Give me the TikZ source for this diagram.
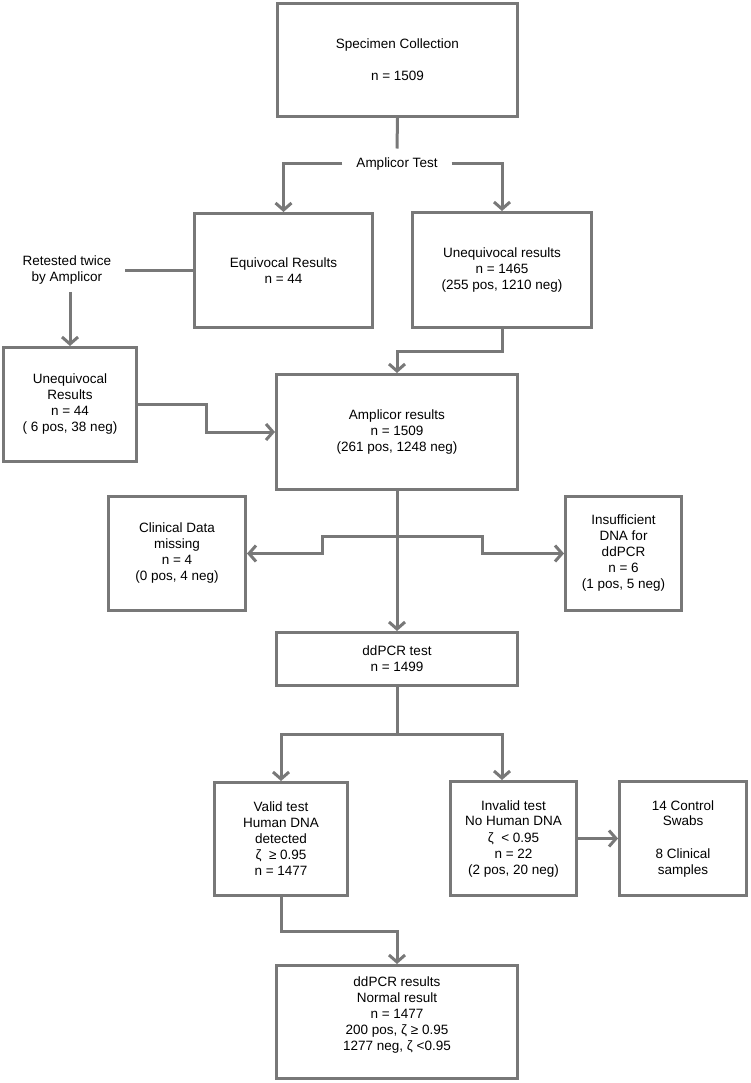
\documentclass[tikz,border=0pt]{standalone}
\usepackage{fontspec}
\setmainfont{Liberation Sans}
\usetikzlibrary{arrows.meta,calc}
\definecolor{linegray}{RGB}{120,120,120}
\begin{document}
\begin{tikzpicture}[x=1pt,y=-1pt,
  box/.style={draw=linegray, line width=3pt, inner sep=0pt, align=center, font=\fontsize{13.5}{16}\selectfont},
  lbl/.style={align=center, font=\fontsize{13.5}{16}\selectfont},
  conn/.style={draw=linegray, line width=3pt},
  arr/.style={conn, -{Straight Barb[length=7pt,width=16pt]}}
]
\useasboundingbox (0,0) rectangle (750,1083);
\node[box, minimum width=240pt, minimum height=113pt] (spec) at (397.5,60) {Specimen Collection\\[16pt]n = 1509};
\node[lbl, inner xsep=14pt, inner ysep=9pt] (amptest) at (397,164) {Amplicor Test};
\node[box, minimum width=178pt, minimum height=114pt] (equi) at (283.5,270.5) {Equivocal Results\\n = 44};
\node[box, minimum width=179pt, minimum height=115pt] (unequi) at (502,270) {Unequivocal results\\n = 1465\\(255 pos, 1210 neg)};
\node[lbl, inner xsep=14pt, inner ysep=7pt] (retest) at (67,270.5) {Retested twice\\by Amplicor};
\node[box, minimum width=133pt, minimum height=114pt] (uneqf) at (70,404.5) {Unequivocal\\Results\\n = 44\\( 6 pos, 38 neg)};
\node[box, minimum width=241pt, minimum height=115pt] (ampres) at (397,432) {Amplicor results\\n = 1509\\(261 pos, 1248 neg)};
\node[box, minimum width=137pt, minimum height=114pt] (clin) at (177,553.5) {Clinical Data\\missing\\n = 4\\(0 pos, 4 neg)};
\node[box, minimum width=116pt, minimum height=114pt] (insuf) at (623.5,553.5) {Insufficient\\DNA for\\ddPCR\\n = 6\\(1 pos, 5 neg)};
\node[box, minimum width=241pt, minimum height=53pt] (ddtest) at (397,659) {ddPCR test\\n = 1499};
\node[box, minimum width=133pt, minimum height=113pt] (valid) at (281,839) {Valid test\\Human DNA\\detected\\ζ\ \ ≥ 0.95\\n = 1477};
\node[box, minimum width=126pt, minimum height=114pt] (invalid) at (513.5,838.5) {Invalid test\\No Human DNA\\ζ\ \ < 0.95\\n = 22\\(2 pos, 20 neg)};
\node[box, minimum width=127pt, minimum height=114pt] (ctrl) at (683,838.5) {14 Control\\Swabs\\[16pt]8 Clinical\\samples};
\node[box, minimum width=241pt, minimum height=113pt] (ddres) at (397,1022) {};
\node[lbl] (ddrestxt) at (397,1015) {ddPCR results\\Normal result\\n = 1477\\200 pos, ζ ≥ 0.95\\1277 neg, ζ <0.95};
\draw[conn] (spec.south) -- (amptest.north);
\draw[arr] (amptest.west) -| (equi.north);
\draw[arr] (amptest.east) -| (unequi.north);
\draw[conn] (retest.east) -- (equi.west);
\draw[arr] (retest.south -| uneqf.north) -- (uneqf.north);
\draw[arr] (unequi.south) -- ++(0,22) -| (ampres.north);
\draw[arr] (uneqf.east) -| ($(uneqf.east)!0.5!(ampres.west)$) |- (ampres.west);
\draw[arr] (ampres.south) -- (ddtest.north);
\coordinate (bl) at (322,536);
\coordinate (br) at (482,536);
\draw[arr] (br) -- (bl) |- (clin.east);
\draw[arr] (bl) -- (br) |- (insuf.west);
\coordinate (bv) at (397,734);
\draw[arr] (ddtest.south) -- (bv) -| (valid.north);
\draw[arr] (bv) -| ($(invalid.north)+(-11.5,0)$);
\draw[arr] (valid.south) -- ++(0,34) -| (ddres.north);
\draw[arr] (invalid.east) -- (ctrl.west);
\end{tikzpicture}
\end{document}
